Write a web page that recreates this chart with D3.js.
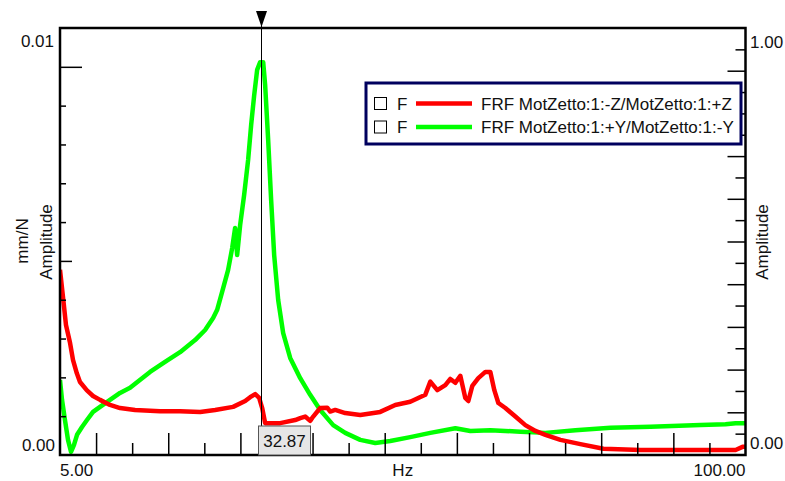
<!DOCTYPE html>
<html>
<head>
<meta charset="utf-8">
<script src="https://cdn.jsdelivr.net/npm/d3@7"></script>
<style>
  html, body { margin: 0; padding: 0; background: #fff; }
  svg text { font-family: "Liberation Sans", Arial, sans-serif; font-size: 17px; fill: #111; }
</style>
</head>
<body>
<svg id="chart" width="785" height="481"></svg>
<script>
// Frequency (Hz) and amplitude (mm/N) samples for the two FRFs
const redFreq = [5.00, 5.46, 5.83, 6.39, 6.80, 7.32, 7.77, 8.70, 9.58, 10.55, 11.93, 13.32, 15.40, 18.87, 21.64, 24.42, 26.50, 28.99, 30.66, 31.35, 32.05, 32.60, 33.02, 33.43, 35.51, 37.59, 38.29, 38.98, 39.67, 40.09, 41.06, 42.03, 42.45, 43.14, 44.53, 46.61, 49.38, 51.46, 53.54, 55.62, 56.32, 57.29, 58.40, 59.09, 59.79, 60.48, 61.17, 61.59, 62.14, 62.97, 63.95, 64.64, 65.19, 65.75, 66.72, 68.11, 69.49, 70.88, 72.27, 74.35, 77.12, 80.31, 85.44, 93.77, 98.62, 99.59, 100.00];
const redAmp = [0.00477, 0.00399, 0.00335, 0.00289, 0.00245, 0.00211, 0.00188, 0.00167, 0.00152, 0.00142, 0.00129, 0.00121, 0.00116, 0.00113, 0.00113, 0.00111, 0.00116, 0.00124, 0.00139, 0.00149, 0.00157, 0.00147, 0.00121, 0.00082, 0.00082, 0.00090, 0.00095, 0.00099, 0.00088, 0.00099, 0.00121, 0.00122, 0.00112, 0.00116, 0.00108, 0.00103, 0.00111, 0.00129, 0.00137, 0.00155, 0.00189, 0.00167, 0.00180, 0.00196, 0.00186, 0.00204, 0.00147, 0.00139, 0.00178, 0.00198, 0.00214, 0.00214, 0.00167, 0.00134, 0.00121, 0.00099, 0.00077, 0.00062, 0.00052, 0.00039, 0.00028, 0.00016, 0.00013, 0.00013, 0.00013, 0.00021, 0.00021];

const greenFreq = [5.00, 5.28, 5.69, 6.11, 6.53, 6.94, 7.36, 8.05, 8.74, 9.58, 10.55, 11.93, 13.32, 14.71, 17.48, 19.56, 21.64, 23.72, 25.11, 26.22, 26.78, 27.47, 28.30, 28.86, 29.27, 29.55, 29.97, 30.52, 31.07, 31.49, 31.91, 32.32, 32.74, 33.16, 33.43, 33.85, 34.26, 34.68, 35.24, 35.93, 36.90, 38.29, 39.67, 41.06, 42.86, 44.53, 46.61, 48.69, 50.77, 53.54, 56.32, 59.79, 61.87, 64.64, 68.80, 72.27, 76.43, 81.28, 86.83, 93.77, 97.23, 98.62, 100.00];
const greenAmp = [0.00193, 0.00142, 0.00090, 0.00039, 0.00008, 0.00026, 0.00052, 0.00072, 0.00090, 0.00111, 0.00124, 0.00142, 0.00160, 0.00173, 0.00214, 0.00240, 0.00265, 0.00296, 0.00322, 0.00353, 0.00374, 0.00420, 0.00477, 0.00533, 0.00585, 0.00515, 0.00593, 0.00670, 0.00760, 0.00850, 0.00927, 0.00992, 0.01012, 0.01012, 0.00953, 0.00811, 0.00657, 0.00515, 0.00399, 0.00314, 0.00250, 0.00198, 0.00155, 0.00116, 0.00077, 0.00057, 0.00039, 0.00031, 0.00036, 0.00046, 0.00057, 0.00069, 0.00062, 0.00064, 0.00060, 0.00057, 0.00064, 0.00070, 0.00073, 0.00077, 0.00079, 0.00082, 0.00082];

const seriesNames = ["FRF MotZetto:1:-Z/MotZetto:1:+Z", "FRF MotZetto:1:+Y/MotZetto:1:-Y"];
const seriesColors = ["#ff0000", "#00ff00"];

const xTicks = [10, 15, 20, 25, 30, 35, 40, 45, 50, 55, 60, 65, 70, 75, 80, 85, 90, 95];
const xTickLabels = ["5.00", "100.00"];
const leftTicks = [0.001, 0.002, 0.003, 0.004, 0.005, 0.006, 0.007, 0.008, 0.009, 0.010];
const leftTickLabels = ["0.01", "0.00"];
const rightTicks = d3.range(1, 20).map(i => i * 0.05);
const rightTickLabels = ["1.00", "0.00"];
const cursorFreq = 32.87;

const svg = d3.select("#chart");
const L = 60, R = 745.5, T = 28, B = 455;

const x = d3.scaleLinear().domain([5, 100]).range([L, R]);
const y = d3.scaleLinear().domain([0, 0.011]).range([B, T]);
const yR = d3.scaleLinear().domain([0, 1]).range([B, T]);

// Clip for curves
svg.append("clipPath").attr("id", "plot")
  .append("rect").attr("x", L).attr("y", T).attr("width", R - L).attr("height", B - T);

// Curves
const line = d3.line().x(d => x(d[0])).y(d => y(d[1]));
const series = [
  d3.zip(redFreq, redAmp),
  d3.zip(greenFreq, greenAmp)
];
series.forEach((pts, i) => {
  svg.append("path")
    .attr("clip-path", "url(#plot)")
    .attr("d", line(pts))
    .attr("fill", "none")
    .attr("stroke", seriesColors[i])
    .attr("stroke-width", 4.5)
    .attr("stroke-linejoin", "round");
});
// draw red on top of green in the lower region
svg.selectAll("path").filter((d, i) => i === 0).raise();

// Bottom axis with inward ticks
const xAxis = d3.axisBottom(x).tickValues(xTicks).tickFormat("").tickSizeOuter(0);
const gx = svg.append("g").attr("transform", `translate(0,${B})`).call(xAxis);
gx.select(".domain").remove();
gx.selectAll(".tick line")
  .attr("y2", d => (d % 10 === 0 ? -22 : -12))
  .attr("stroke", "#000").attr("stroke-width", 1.5);

// Left axis with inward ticks
const yAxis = d3.axisLeft(y).tickValues(leftTicks).tickFormat("").tickSizeOuter(0);
const gy = svg.append("g").attr("transform", `translate(${L},0)`).call(yAxis);
gy.select(".domain").remove();
gy.selectAll(".tick line")
  .attr("x2", d => (Math.abs(d - 0.010) < 1e-9 ? 22 : Math.abs(d - 0.005) < 1e-9 ? 12 : 6))
  .attr("stroke", "#000").attr("stroke-width", 1.5);

// Right axis with inward ticks
const yAxisR = d3.axisRight(yR).tickValues(rightTicks).tickFormat("").tickSizeOuter(0);
const gr = svg.append("g").attr("transform", `translate(${R},0)`).call(yAxisR);
gr.select(".domain").remove();
gr.selectAll(".tick line")
  .attr("x2", (d, i) => (i % 2 === 1 ? -18 : -10))
  .attr("stroke", "#000").attr("stroke-width", 1.5);

// Frame
svg.append("path")
  .attr("d", `M${L},${T}H${R}V${B}H${L}Z`)
  .attr("fill", "none").attr("stroke", "#000").attr("stroke-width", 2.5);

// Axis end labels
svg.append("text").attr("x", 54).attr("y", y(0.011) + 19).attr("text-anchor", "end").text(leftTickLabels[0]);
svg.append("text").attr("x", 55).attr("y", y(0) - 4).attr("text-anchor", "end").text(leftTickLabels[1]);
svg.append("text").attr("x", 750).attr("y", yR(1) + 20).text(rightTickLabels[0]);
svg.append("text").attr("x", 750).attr("y", yR(0) - 6).text(rightTickLabels[1]);
svg.append("text").attr("x", x(5)).attr("y", 476).text(xTickLabels[0]);
svg.append("text").attr("x", x(100)).attr("y", 476).attr("text-anchor", "end").text(xTickLabels[1]);
svg.append("text").attr("x", (L + R) / 2).attr("y", 476).attr("text-anchor", "middle").text("Hz");

// Axis titles
const vTitle = (cx, cy, txt) => svg.append("text")
  .attr("transform", `translate(${cx},${cy}) rotate(-90)`)
  .attr("text-anchor", "middle").text(txt);
vTitle(28, 241, "mm/N");
vTitle(52, 242, "Amplitude");
vTitle(768, 242, "Amplitude");

// Cursor
const cx = Math.round(x(cursorFreq)) + 0.5;
svg.append("line").attr("x1", cx).attr("x2", cx).attr("y1", 14).attr("y2", B)
  .attr("stroke", "#000").attr("stroke-width", 1);
svg.append("path").attr("d", `M${cx - 5.5},11 L${cx + 5.5},11 L${cx},27 Z`).attr("fill", "#000");
svg.append("rect").attr("x", cx - 3).attr("y", 426).attr("width", 52).attr("height", 29)
  .attr("fill", "#e6e6e6").attr("stroke", "#555").attr("stroke-width", 1);
svg.append("text").attr("x", cx + 23).attr("y", 447).attr("text-anchor", "middle").text(cursorFreq.toFixed(2));

// Legend
const lg = svg.append("g");
lg.append("rect").attr("x", 366).attr("y", 83).attr("width", 375).attr("height", 61)
  .attr("fill", "#fff").attr("stroke", "#00005e").attr("stroke-width", 3);
seriesNames.forEach((name, i) => {
  const cy = 103.5 + i * 23.5;
  lg.append("rect").attr("x", 374.5).attr("y", cy - 6).attr("width", 12).attr("height", 12)
    .attr("fill", "#fff").attr("stroke", "#000").attr("stroke-width", 1);
  lg.append("text").attr("x", 397).attr("y", cy + 6).text("F");
  lg.append("line").attr("x1", 416).attr("x2", 472).attr("y1", cy).attr("y2", cy)
    .attr("stroke", seriesColors[i]).attr("stroke-width", 4.5);
  lg.append("text").attr("x", 481).attr("y", cy + 6).text(name);
});
</script>
</body>
</html>
